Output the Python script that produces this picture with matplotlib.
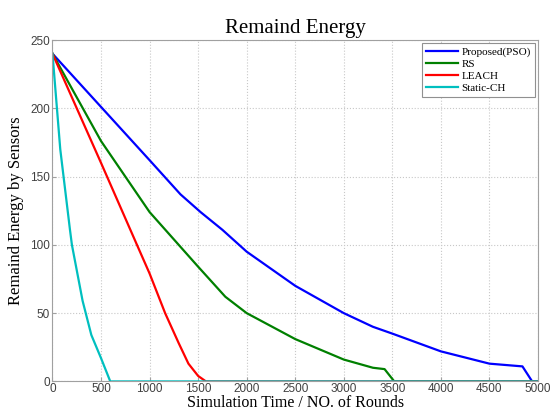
import matplotlib
matplotlib.use("Agg")
import matplotlib.pyplot as plt

pso_x = [0, 500, 1000, 1318, 1525, 1750, 2000, 2500, 3000, 3300, 3500, 4000, 4500, 4840, 4940, 5000]
pso_y = [240, 201, 162, 137, 124, 111, 95, 70, 50, 40, 35, 22, 13, 11, 0, 0]

rs_x = [0, 500, 1000, 1500, 1780, 2000, 2500, 3000, 3300, 3420, 3520, 5000]
rs_y = [240, 176, 124, 84, 62, 50, 31, 16, 10, 9, 0, 0]

leach_x = [0, 500, 870, 1000, 1160, 1300, 1400, 1500, 1580, 5000]
leach_y = [240, 160, 100, 79, 50, 28, 13, 4, 0, 0]

static_x = [0, 80, 180, 200, 310, 400, 500, 595, 5000]
static_y = [240, 170, 111, 100, 59, 34, 17, 0, 0]

labels = ["Proposed(PSO)", "RS", "LEACH", "Static-CH"]
colors = ["#0000ff", "#008000", "#ff0000", "#00bfbf"]

fig = plt.figure(figsize=(5.52, 4.11), dpi=100)
ax = fig.add_axes([0.0951, 0.0720, 0.8795, 0.8306])

for xs, ys, lab, c in zip([pso_x, rs_x, leach_x, static_x],
                          [pso_y, rs_y, leach_y, static_y], labels, colors):
    ax.plot(xs, ys, color=c, lw=1.6, label=lab)

ax.set_xlim(0, 5000)
ax.set_ylim(0, 250)
ax.set_xticks(range(0, 5001, 500))
ax.set_yticks(range(0, 251, 50))
ax.grid(True, linestyle=":", color="#c8c8c8", lw=0.8)
for s in ax.spines.values():
    s.set_color("#a0a0a0")
ax.tick_params(direction="in", length=3, color="#a0a0a0", labelsize=8.5,
               labelcolor="#404040", pad=2)
ax.tick_params(axis="x", pad=1)
for t in ax.get_xticklabels() + ax.get_yticklabels():
    t.set_fontfamily("Liberation Sans")

ax.set_title("Remaind Energy", fontfamily="Liberation Serif", fontsize=15, pad=5)
ax.set_xlabel("Simulation Time / NO. of Rounds", fontfamily="Liberation Serif",
              fontsize=11.5, labelpad=0)
ax.set_ylabel("Remaind Energy by Sensors", fontfamily="Liberation Serif",
              fontsize=12, labelpad=4)

leg = ax.legend(loc="upper right", prop={"family": "Liberation Serif", "size": 8},
                fancybox=False, edgecolor="#909090", framealpha=1,
                borderaxespad=0.3, handlelength=2.9, labelspacing=0.2,
                handletextpad=0.3, borderpad=0.35)
leg.get_frame().set_linewidth(0.8)

fig.savefig("out.png", dpi=100)
